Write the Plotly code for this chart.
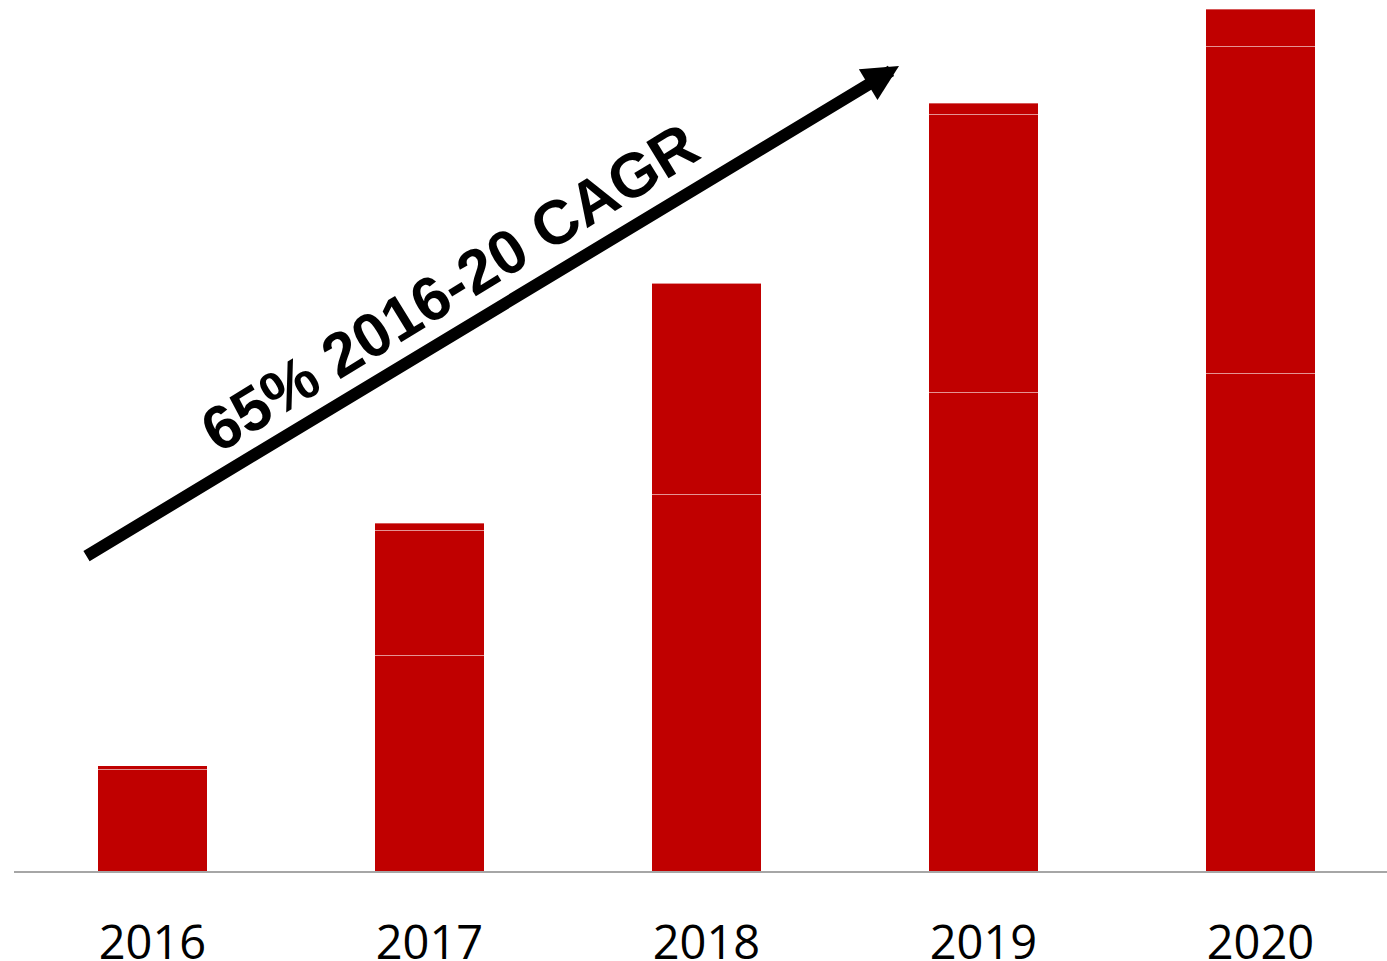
import plotly.graph_objects as go

years = ["2016", "2017", "2018", "2019", "2020"]
seg_bottom = [10.2, 21.6, 37.7, 47.9, 49.8]
seg_middle = [0.35, 12.5, 21.1, 27.8, 32.7]
seg_top = [0.0, 0.7, 0.0, 1.1, 3.7]
annotation_text = "65% 2016-20 CAGR"

BAR_COLOR = "#C00000"
EDGE = dict(color="rgba(255,255,255,0.35)", width=1)

fig = go.Figure()
for name, vals in [("A", seg_bottom), ("B", seg_middle), ("C", seg_top)]:
    fig.add_trace(go.Bar(
        x=years, y=vals, name=name,
        marker=dict(color=BAR_COLOR, line=EDGE),
        width=0.397, showlegend=False, hoverinfo="skip",
    ))

fig.update_layout(
    barmode="stack",
    width=1387, height=961,
    margin=dict(l=14, r=0, t=0, b=90, autoexpand=False),
    paper_bgcolor="white", plot_bgcolor="white",
    xaxis=dict(
        type="category",
        range=[-0.5, -0.5 + 1373 / 277],
        showline=True, linecolor="#A6A6A6", linewidth=2,
        showgrid=False, zeroline=False, ticks="",
        tickfont=dict(family="Open Sans", size=47, color="black"),
        ticklabelstandoff=30, automargin=False,
    ),
    yaxis=dict(range=[0, 87.1], visible=False, showgrid=False,
               zeroline=False, automargin=False),
)

# arrow
fig.add_annotation(
    xref="paper", yref="paper",
    x=(899 - 14) / 1373, y=(871 - 66) / 871,
    ax=-814, ay=491, axref="pixel", ayref="pixel",
    text="", showarrow=True,
    arrowhead=2, arrowsize=0.6, arrowwidth=12, arrowcolor="black",
    standoff=0,
)

# rotated label
fig.add_annotation(
    xref="paper", yref="paper",
    x=(449 - 14) / 1373, y=(871 - 287) / 871,
    xanchor="center", yanchor="middle",
    text="<b>" + annotation_text + "</b>",
    textangle=-31.5, showarrow=False,
    font=dict(family="Liberation Sans", size=62, color="black"),
)

fig.write_html(
    "out.html",
    config={"displayModeBar": False},
    post_script="document.body.style.margin='0';document.body.style.overflow='hidden';",
)
